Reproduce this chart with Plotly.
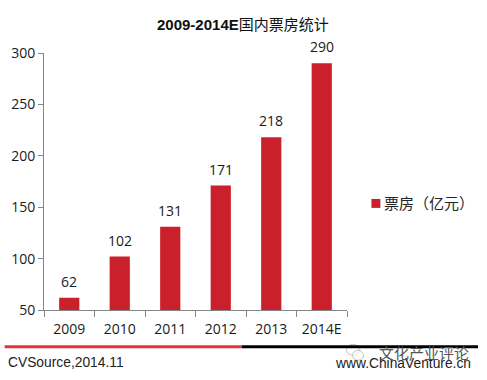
import plotly.graph_objects as go

categories = ["2009", "2010", "2011", "2012", "2013", "2014E"]
box_office = [62, 102, 131, 171, 218, 290]
y_ticks = [50, 100, 150, 200, 250, 300]
series_name = "票房（亿元）"
title_text = "<b>2009-2014E</b>国内票房统计"
source_text = "CVSource,2014.11"
site_text = "www.ChinaVenture.cn"
watermark_text = "文化产业评论"

W, H = 487, 380
L, R, T, B = 43.5, 347.5, 52.5, 310.5
FONT = "'Open Sans', 'Noto Sans CJK SC', sans-serif"
ARIAL = "'Liberation Sans', 'Noto Sans CJK SC', sans-serif"
CJK = "'Noto Sans CJK SC', sans-serif"
AXIS = "#868686"
RED = "#C9202C"
TXT = "#1a1a1a"

fig = go.Figure(go.Bar(
    x=categories, y=box_office, name=series_name,
    marker=dict(color=RED, line=dict(width=0)), width=0.4,
    cliponaxis=False,
))

def ax(x): return (x - L) / (R - L)
def ay(y): return (B - y) / (B - T)

def paper_note(text, x, y, anchor, family, size, color):
    return dict(text=text, xref="paper", yref="paper", x=ax(x), y=ay(y),
                xanchor=anchor, yanchor="middle", showarrow=False,
                font=dict(family=family, size=size, color=color))

# category axes take an annotation's x as the category's index
value_labels = [
    dict(text=str(v), x=i, y=v, xref="x", yref="y", yanchor="bottom", yshift=5,
         showarrow=False, font=dict(family=FONT, size=14, color=TXT))
    for i, v in enumerate(box_office)
]

def circle(x0, y0, x1, y1):
    return dict(type="circle", xref="paper", yref="paper",
                x0=ax(x0), x1=ax(x1), y0=ay(y1), y1=ay(y0),
                line=dict(color="#C4C4C4", width=1), fillcolor="rgba(255,255,255,0.6)")

fig.update_layout(
    width=W, height=H, autosize=False,
    margin=dict(l=L, r=W - R, t=T, b=H - B, pad=0),
    paper_bgcolor="white", plot_bgcolor="white",
    showlegend=False,
    font=dict(family=FONT),
    xaxis=dict(type="category", categoryorder="array", categoryarray=categories,
               range=[-0.5, len(categories) - 0.5],
               showgrid=False, showline=True, linecolor=AXIS, linewidth=1,
               ticks="outside", ticklen=6, tickcolor=AXIS, tickson="boundaries",
               tickfont=dict(family=FONT, size=14, color=TXT),
               ticklabelstandoff=6, fixedrange=True),
    yaxis=dict(range=[50, 300], tickvals=y_ticks, showgrid=False, zeroline=False,
               showline=True, linecolor=AXIS, linewidth=1,
               ticks="outside", ticklen=5, tickcolor=AXIS, ticksuffix="\u00a0\u00a0",
               tickfont=dict(family=FONT, size=14, color=TXT), fixedrange=True),
    shapes=[
        circle(347, 345, 360, 356),
        circle(353, 351, 364, 361),
        dict(type="line", xref="paper", yref="paper", x0=ax(4), x1=ax(242),
             y0=ay(347.5), y1=ay(347.5), line=dict(color="#E8303A", width=3)),
        dict(type="line", xref="paper", yref="paper", x0=ax(242), x1=ax(479),
             y0=ay(347.5), y1=ay(347.5), line=dict(color="#000000", width=3)),
        dict(type="rect", xref="paper", yref="paper", x0=ax(372), x1=ax(381),
             y0=ay(208), y1=ay(199), fillcolor=RED, line=dict(width=0)),
    ],
    annotations=value_labels + [
        paper_note(title_text, 243, 24, "center", ARIAL, 15, "#111111"),
        paper_note(series_name, 383, 203, "left", CJK, 15, "#262626"),
        paper_note(source_text, 5, 363, "left", ARIAL, 13.8, "#222222"),
        paper_note(site_text, 474, 364, "right", ARIAL, 13.8, "#222222"),
        paper_note(watermark_text, 425, 353, "center", CJK, 15, "#555555"),
    ],
)

fig.write_html("out.html", config=dict(displayModeBar=False),
               post_script="document.body.style.margin='0';")
